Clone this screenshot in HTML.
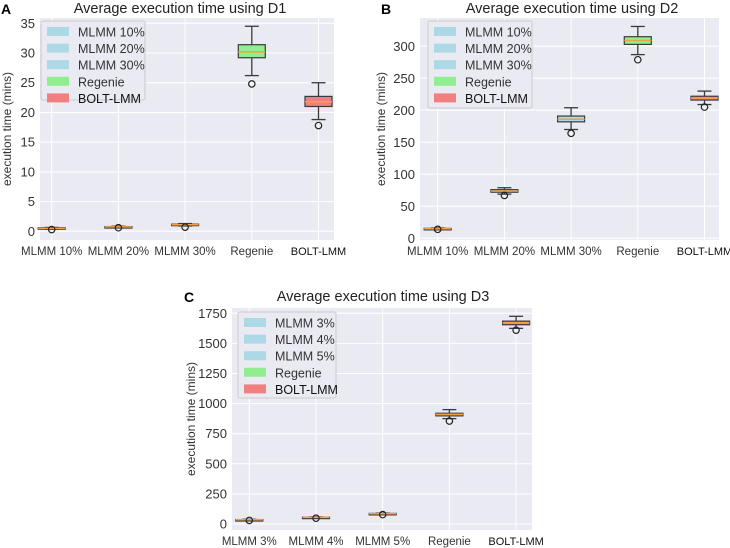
<!DOCTYPE html>
<html><head><meta charset="utf-8"><style>
html,body{margin:0;padding:0;background:#fff;width:730px;height:548px;overflow:hidden}
svg{font-family:"Liberation Sans",sans-serif}
</style></head><body>
<svg id="s" width="730" height="548" xmlns="http://www.w3.org/2000/svg"></svg>
<script>
// Panel A data (mins)
const catsA = ["MLMM 10%","MLMM 20%","MLMM 30%","Regenie","BOLT-LMM"];
const statsA_lo = [0.35,0.65,0.9,26.2,18.8];
const statsA_q1 = [0.4,0.7,1.0,29.2,21.0];
const statsA_med = [0.5,0.75,1.1,30.2,21.8];
const statsA_q3 = [0.6,0.8,1.2,31.4,22.7];
const statsA_hi = [0.65,0.85,1.3,34.5,25.0];
const outA = [0.3,0.6,0.7,24.8,17.8];
const ticksA = [0,5,10,15,20,25,30,35];
// Panel B data
const catsB = ["MLMM 10%","MLMM 20%","MLMM 30%","Regenie","BOLT-LMM"];
const statsB_lo = [14,69,170,287,209];
const statsB_q1 = [14.5,72,182,303,216];
const statsB_med = [15,74,186,309,219];
const statsB_q3 = [15.5,76,191,315,222];
const statsB_hi = [16,79,204,331,230];
const outB = [14,67,164,279,205];
const ticksB = [0,50,100,150,200,250,300];
// Panel C data
const catsC = ["MLMM 3%","MLMM 4%","MLMM 5%","Regenie","BOLT-LMM"];
const statsC_lo = [31,51,80,875,1625];
const statsC_q1 = [33,53,82,898,1655];
const statsC_med = [35,55,85,910,1670];
const statsC_q3 = [37,57,88,920,1685];
const statsC_hi = [39,59,90,950,1725];
const outC = [30,48,78,855,1610];
const ticksC = [0,250,500,750,1000,1250,1500,1750];

const fills=["#add8e6","#add8e6","#add8e6","#90ee90","#f08080"];
const NS="http://www.w3.org/2000/svg";
const svg=document.getElementById('s');
function mk(tag,attrs,parent,txt){const e=document.createElementNS(NS,tag);for(const k in attrs)e.setAttribute(k,attrs[k]);if(txt!==undefined)e.textContent=txt;(parent||svg).appendChild(e);return e;}

function panel(p){
  const g=mk('g',{});
  
  
  const y=v=>p.y0-v*p.k;
  const x=i=>p.c0+i*66.7;
  const bg=mk('rect',{x:p.l,y:p.t,width:p.r-p.l,height:p.b-p.t,fill:'#eaeaf2'},g);
  
  
  p.ticks.forEach(t=>{
    mk('line',{x1:p.l,x2:p.r,y1:y(t),y2:y(t),stroke:'#fff','stroke-width':1},g);
    const tl=mk('text',{x:p.l-5,y:y(t)+4.5,'text-anchor':'end','font-size':13,fill:'#333'},g,String(t));
    
    
  });
  p.cats.forEach((c,i)=>{
    mk('line',{x1:x(i),x2:x(i),y1:p.t,y2:p.b,stroke:'#fff','stroke-width':1},g);
    const cl=mk('text',{x:x(i),y:p.b+15,'text-anchor':'middle','font-size':i==4?11:11.5,fill:i==4?'#111':'#333'},g,c);
    
    
  });
  p.cats.forEach((c,i)=>{
    const bx=mk('g',{},g);
    
    
    const st='#3a3a3a';
    mk('line',{x1:x(i),x2:x(i),y1:y(p.hi[i]),y2:y(p.q3[i]),stroke:st,'stroke-width':1.3},bx);
    mk('line',{x1:x(i),x2:x(i),y1:y(p.q1[i]),y2:y(p.lo[i]),stroke:st,'stroke-width':1.3},bx);
    mk('line',{x1:x(i)-7,x2:x(i)+7,y1:y(p.hi[i]),y2:y(p.hi[i]),stroke:st,'stroke-width':1.3},bx);
    mk('line',{x1:x(i)-7,x2:x(i)+7,y1:y(p.lo[i]),y2:y(p.lo[i]),stroke:st,'stroke-width':1.3},bx);
    const h=Math.max(y(p.q1[i])-y(p.q3[i]),1.5);
    mk('rect',{x:x(i)-13.5,y:y(p.q3[i]),width:27,height:h,fill:fills[i],stroke:st,'stroke-width':1.2},bx);
    mk('line',{x1:x(i)-13.5,x2:x(i)+13.5,y1:y(p.med[i]),y2:y(p.med[i]),stroke:'#f5a040','stroke-width':1.5},bx);
    mk('circle',{cx:x(i),cy:y(p.out[i]),r:3.2,fill:'none',stroke:'#222','stroke-width':1.2},bx);
  });
  const tt=mk('text',{x:p.tx,y:p.ty,'text-anchor':'middle','font-size':14.5,fill:'#222'},g,p.title);
  
  
  const pl=mk('text',{x:p.px,y:p.ty+1,'font-size':14,'font-weight':'bold',fill:'#000'},g,p.id);
  
  
  const ym=(p.t+p.b)/2;
  const yt=mk('text',{x:p.yx,y:ym,'text-anchor':'middle','font-size':12,fill:'#333',transform:`rotate(-90 ${p.yx} ${ym})`},g,'execution time (mins)');
  
  
  // legend
  const lg=mk('g',{},g);
  
  
  mk('rect',{x:p.lx,y:p.ly,width:p.lw,height:p.lh,fill:'#eaeaf2',stroke:'#ccc','stroke-width':1,rx:2},lg);
  p.cats.forEach((c,i)=>{
    const e=mk('g',{},lg);
    
    
    const ey=p.ly+11+i*16.6;
    mk('rect',{x:p.lx+6,y:ey-5,width:22,height:9,fill:fills[i]},e);
    mk('text',{x:p.lx+37,y:ey+4.5,'font-size':12.5,fill:i==4?'#111':'#333'},e,c);
  });
}
panel({id:'A',cats:catsA,lo:statsA_lo,q1:statsA_q1,med:statsA_med,q3:statsA_q3,hi:statsA_hi,out:outA,ticks:ticksA,
  l:40,r:334,t:18,b:240,y0:231.3,k:5.943,c0:51.7,title:'Average execution time using D1',tx:180,ty:13,px:1,yx:11,
  lx:41,ly:21,lw:104,lh:79});
panel({id:'B',cats:catsB,lo:statsB_lo,q1:statsB_q1,med:statsB_med,q3:statsB_q3,hi:statsB_hi,out:outB,ticks:ticksB,
  l:420,r:719,t:18,b:240,y0:238.3,k:0.64,c0:437.7,title:'Average execution time using D2',tx:572,ty:13,px:381,yx:385,
  lx:428,ly:21,lw:104,lh:87});
panel({id:'C',cats:catsC,lo:statsC_lo,q1:statsC_q1,med:statsC_med,q3:statsC_q3,hi:statsC_hi,out:outC,ticks:ticksC,
  l:232,r:532,t:308,b:530,y0:524,k:0.1204,c0:249.3,title:'Average execution time using D3',tx:383,ty:301,px:184,yx:195,
  lx:238,ly:312,lw:98,lh:86});
</script>
</body></html>
